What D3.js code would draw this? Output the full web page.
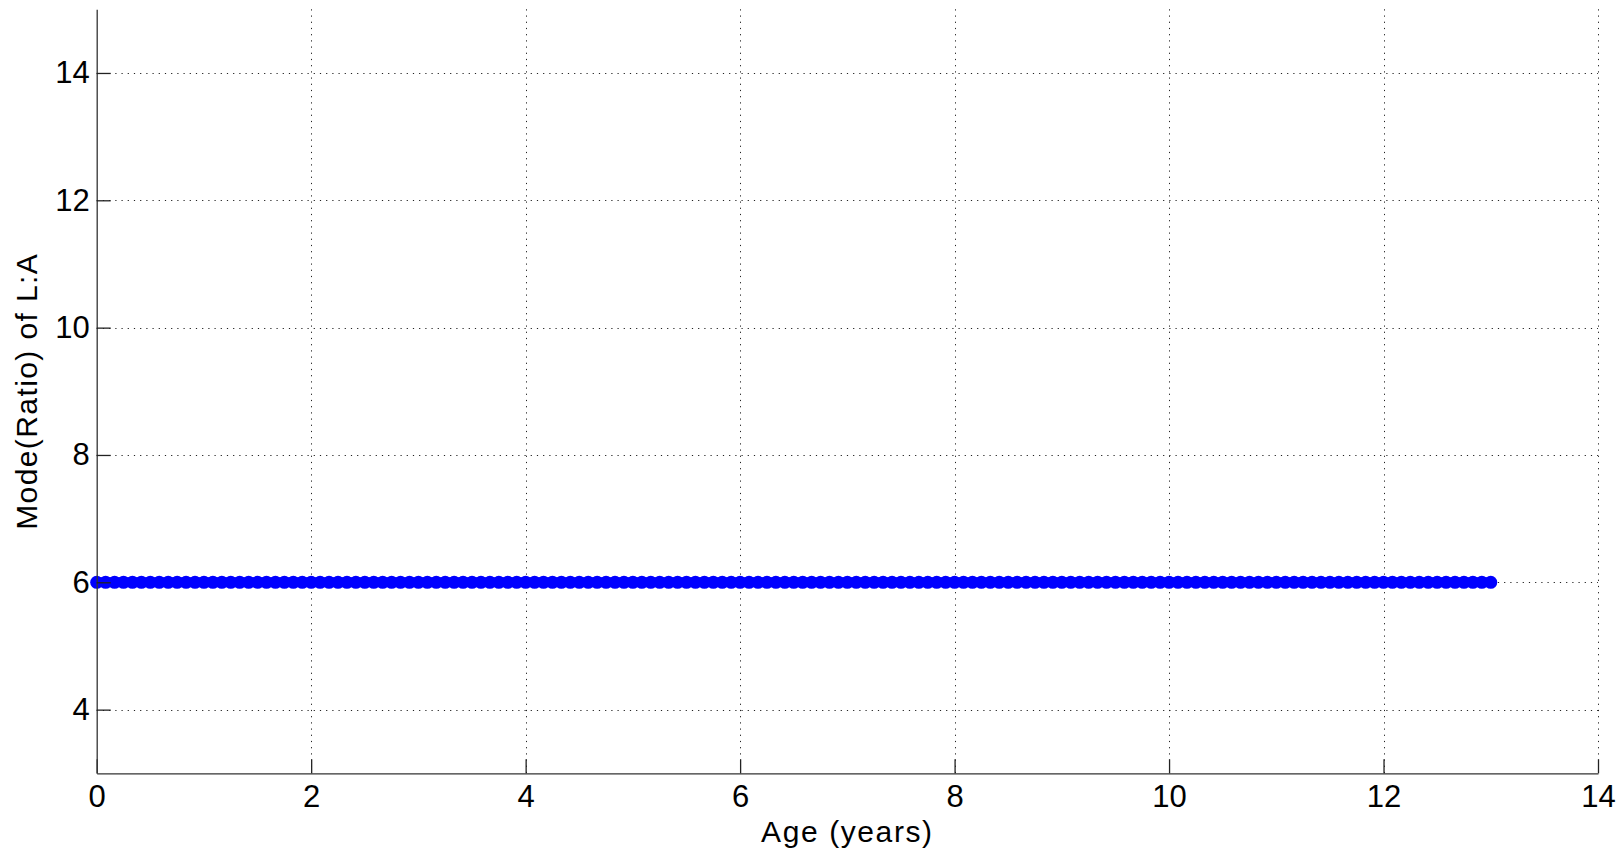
<!DOCTYPE html>
<html>
<head>
<meta charset="utf-8">
<script src="https://cdn.jsdelivr.net/npm/d3@7/dist/d3.min.js"></script>
<style>
  html, body { margin: 0; padding: 0; background: #fff; }
  svg { display: block; }
  text { font-family: "Liberation Sans", Arial, sans-serif; fill: #000; }
</style>
</head>
<body>
<svg id="chart" width="1624" height="851"></svg>
<script>
// Age of each sample, in months
const ageMonths = [
  0, 1, 2, 3, 4, 5, 6, 7, 8, 9, 10, 11,
  12, 13, 14, 15, 16, 17, 18, 19, 20, 21, 22, 23,
  24, 25, 26, 27, 28, 29, 30, 31, 32, 33, 34, 35,
  36, 37, 38, 39, 40, 41, 42, 43, 44, 45, 46, 47,
  48, 49, 50, 51, 52, 53, 54, 55, 56, 57, 58, 59,
  60, 61, 62, 63, 64, 65, 66, 67, 68, 69, 70, 71,
  72, 73, 74, 75, 76, 77, 78, 79, 80, 81, 82, 83,
  84, 85, 86, 87, 88, 89, 90, 91, 92, 93, 94, 95,
  96, 97, 98, 99, 100, 101, 102, 103, 104, 105, 106, 107,
  108, 109, 110, 111, 112, 113, 114, 115, 116, 117, 118, 119,
  120, 121, 122, 123, 124, 125, 126, 127, 128, 129, 130, 131,
  132, 133, 134, 135, 136, 137, 138, 139, 140, 141, 142, 143,
  144, 145, 146, 147, 148, 149, 150, 151, 152, 153, 154, 155,
  156
];
// Mode of the L:A ratio at each age
const modeRatio = [
  6, 6, 6, 6, 6, 6, 6, 6, 6, 6, 6, 6,
  6, 6, 6, 6, 6, 6, 6, 6, 6, 6, 6, 6,
  6, 6, 6, 6, 6, 6, 6, 6, 6, 6, 6, 6,
  6, 6, 6, 6, 6, 6, 6, 6, 6, 6, 6, 6,
  6, 6, 6, 6, 6, 6, 6, 6, 6, 6, 6, 6,
  6, 6, 6, 6, 6, 6, 6, 6, 6, 6, 6, 6,
  6, 6, 6, 6, 6, 6, 6, 6, 6, 6, 6, 6,
  6, 6, 6, 6, 6, 6, 6, 6, 6, 6, 6, 6,
  6, 6, 6, 6, 6, 6, 6, 6, 6, 6, 6, 6,
  6, 6, 6, 6, 6, 6, 6, 6, 6, 6, 6, 6,
  6, 6, 6, 6, 6, 6, 6, 6, 6, 6, 6, 6,
  6, 6, 6, 6, 6, 6, 6, 6, 6, 6, 6, 6,
  6, 6, 6, 6, 6, 6, 6, 6, 6, 6, 6, 6,
  6
];
const xTicks = [0, 2, 4, 6, 8, 10, 12, 14];
const yTicks = [4, 6, 8, 10, 12, 14];
const xDomain = [0, 14];
const yDomain = [3, 15];

const svg = d3.select("#chart");
const plotLeft = 96.7, plotRight = 1598, plotTop = 9.3, plotBottom = 773.3;

const x = d3.scaleLinear().domain(xDomain).range([plotLeft, plotRight]);
const y = d3.scaleLinear().domain(yDomain).range([plotBottom, plotTop]);

const points = ageMonths.map((m, i) => ({ age: m / 12, v: modeRatio[i] }));

// dotted grid
const grid = svg.append("g").attr("stroke", "#222").attr("stroke-width", 1)
  .attr("stroke-dasharray", "1.2,5").attr("fill", "none");
grid.selectAll("line.h").data(yTicks).join("line").attr("class", "h")
  .attr("x1", plotLeft).attr("x2", plotRight)
  .attr("y1", d => Math.round(y(d)) + 0.5).attr("y2", d => Math.round(y(d)) + 0.5);
grid.selectAll("line.v").data(xTicks.filter(d => d > 0)).join("line").attr("class", "v")
  .attr("y1", plotTop).attr("y2", plotBottom)
  .attr("x1", d => Math.round(x(d)) + 0.5).attr("x2", d => Math.round(x(d)) + 0.5);

// series
const line = d3.line().x(d => x(d.age)).y(d => y(d.v));
svg.append("path").datum(points)
  .attr("d", line).attr("fill", "none")
  .attr("stroke", "#0000ff").attr("stroke-width", 10);
svg.append("g").selectAll("circle").data(points).join("circle")
  .attr("cx", d => x(d.age)).attr("cy", d => y(d.v)).attr("r", 6.5)
  .attr("fill", "#0000ff");

// axes
const xAxis = d3.axisBottom(x).tickValues(xTicks).tickSizeInner(-14).tickSizeOuter(0)
  .tickPadding(12).tickFormat(d3.format("d"));
const gx = svg.append("g").attr("transform", `translate(0,${plotBottom})`).call(xAxis);
const yAxis = d3.axisLeft(y).tickValues(yTicks).tickSizeInner(-14).tickSizeOuter(0)
  .tickPadding(7).tickFormat(d3.format("d"));
const gy = svg.append("g").attr("transform", `translate(${plotLeft},0)`).call(yAxis);

[gx, gy].forEach(g => {
  g.select(".domain").attr("stroke", "#333").attr("stroke-width", 1.3);
  g.selectAll(".tick line").attr("stroke", "#222").attr("stroke-width", 1.3);
  g.selectAll(".tick text").attr("font-size", 31)
    .attr("font-family", "'Liberation Sans', Arial, sans-serif").attr("fill", "#000");
});

// axis titles
svg.append("text").attr("x", (plotLeft + plotRight) / 2).attr("y", 842)
  .attr("text-anchor", "middle").attr("font-size", 30).attr("letter-spacing", 1.6)
  .text("Age (years)");
svg.append("text").attr("transform", `translate(37,${(plotTop + plotBottom) / 2}) rotate(-90)`)
  .attr("text-anchor", "middle").attr("font-size", 30).attr("letter-spacing", 1.4)
  .text("Mode(Ratio) of L:A");
</script>
</body>
</html>
